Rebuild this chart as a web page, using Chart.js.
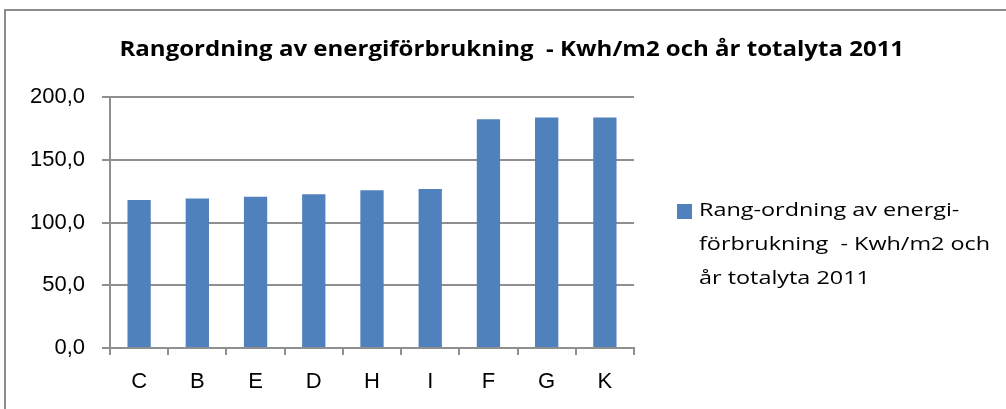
<!DOCTYPE html>
<html>
<head>
<meta charset="utf-8">
<script src="https://cdn.jsdelivr.net/npm/chart.js@4/dist/chart.umd.min.js"></script>
<style>
  html, body { margin:0; padding:0; background:#fff; }
  #wrap { position:relative; width:1006px; height:409px; overflow:hidden; font-family:"Open Sans", "Liberation Sans", Arial, sans-serif; }
  #frame { position:absolute; left:4px; top:9px; width:1100px; height:500px; border-left:2px solid #8c8c8c; border-top:2px solid #8c8c8c; box-sizing:border-box; }
  #title { position:absolute; left:512px; top:35px; font-weight:bold; font-size:22px; line-height:24px; color:#000; white-space:pre; transform-origin:0 0; }
  #legend { position:absolute; left:677px; top:192px; font-size:19px; line-height:34px; color:#000; }
  #legend .sw { position:absolute; left:0; top:12px; width:15px; height:15px; background:#4f81bd; }
  #legend .tx { position:absolute; left:22px; top:0; white-space:pre; transform-origin:0 0; }
  canvas { position:absolute; left:0; top:0; }
</style>
</head>
<body>
<div id="wrap">
  <div id="frame"></div>
  <canvas id="c" width="1006" height="409"></canvas>
  <div id="title"></div>
  <div id="legend"><div class="sw"></div><div class="tx" id="legtext"></div></div>
</div>
<script>
const chartTitle = "Rangordning av energiförbrukning  - Kwh/m2 och år totalyta 2011";
const seriesName = ["Rang-ordning av energi-", "förbrukning  - Kwh/m2 och", "år totalyta 2011"];
const categories = ["C", "B", "E", "D", "H", "I", "F", "G", "K"];
const values = [117.9, 119.2, 120.6, 122.5, 125.7, 126.7, 182.3, 183.7, 183.7];
const yTicks = [0, 50, 100, 150, 200];
const yTickLabels = ["0,0", "50,0", "100,0", "150,0", "200,0"];

const titleEl = document.getElementById('title');
titleEl.textContent = chartTitle;
const tw = titleEl.offsetWidth;
const tScale = 785 / tw;
titleEl.style.transform = 'translateX(' + (-785 / 2) + 'px) scaleX(' + tScale + ')';

const legEl = document.getElementById('legtext');
legEl.innerHTML = seriesName.map(s => '<span>' + s.replace(/&/g,'&amp;').replace(/</g,'&lt;') + '</span>').join('<br>');
const firstW = legEl.querySelector('span').offsetWidth;
legEl.style.transform = 'scaleX(' + (261 / firstW) + ')';

const gridColor = '#8f8f8f';
const tickFont = { family: '"Liberation Sans", Arial, sans-serif', size: 22 };
new Chart(document.getElementById('c'), {
  type: 'bar',
  data: {
    labels: categories,
    datasets: [{
      label: seriesName.join(' '),
      data: values,
      backgroundColor: '#4f81bd',
      borderWidth: 0,
      barPercentage: 0.4,
      categoryPercentage: 1.0
    }]
  },
  options: {
    responsive: false,
    animation: false,
    events: [],
    layout: { padding: { left: 0, right: 372, top: 97, bottom: 0 } },
    plugins: { legend: { display: false }, title: { display: false }, tooltip: { enabled: false } },
    scales: {
      x: {
        offset: true,
        grid: { display: true, drawOnChartArea: false, drawTicks: true, tickLength: 7, color: gridColor, lineWidth: 2, offset: true },
        border: { display: true, color: gridColor, width: 2 },
        ticks: { color: '#000', font: tickFont, padding: 14 },
        afterFit: s => { s.height = 61; }
      },
      y: {
        min: 0, max: 200,
        afterBuildTicks: s => { s.ticks = yTicks.map(v => ({ value: v })); },
        grid: { color: gridColor, lineWidth: 2, drawTicks: true, tickLength: 8 },
        border: { display: true, color: gridColor, width: 2 },
        ticks: {
          color: '#000', font: tickFont, padding: 17,
          callback: v => { const i = yTicks.indexOf(v); return i >= 0 ? yTickLabels[i] : ''; }
        },
        afterFit: s => { s.width = 110; }
      }
    }
  }
});
</script>
</body>
</html>
